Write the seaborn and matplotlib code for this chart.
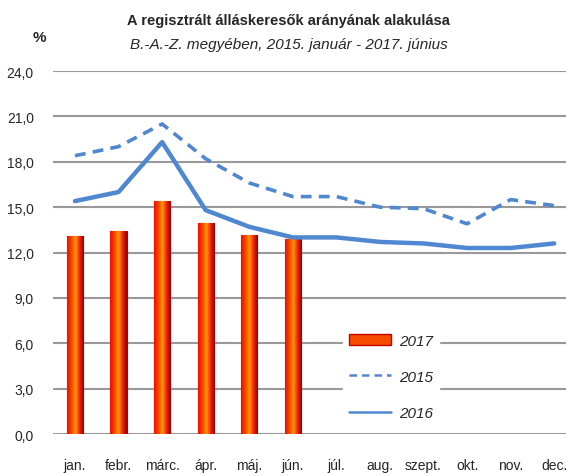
import numpy as np
import pandas as pd
import seaborn as sns
import matplotlib.pyplot as plt
from matplotlib.patches import Patch
from matplotlib.lines import Line2D
from matplotlib.colors import LinearSegmentedColormap

months = ['jan.', 'febr.', 'márc.', 'ápr.', 'máj.', 'jún.', 'júl.',
          'aug.', 'szept.', 'okt.', 'nov.', 'dec.']
v2015 = [18.4, 19.0, 20.5, 18.2, 16.6, 15.7, 15.7, 15.0, 14.9, 13.9, 15.5, 15.1]
v2016 = [15.4, 16.0, 19.3, 14.8, 13.7, 13.0, 13.0, 12.7, 12.6, 12.3, 12.3, 12.6]
v2017 = [13.1, 13.4, 15.4, 13.95, 13.15, 12.9]
yticks = [0, 3, 6, 9, 12, 15, 18, 21, 24]

sns.set_style('white')
plt.rcParams['font.family'] = ['Liberation Sans Narrow', 'Liberation Sans', 'DejaVu Sans']

fig = plt.figure(figsize=(5.66, 4.77), dpi=100)
ax = fig.add_axes([0.094, 0.088, 0.906, 0.761])

blue = '#4f87d0'

# 2017 bars
sns.barplot(x=months[:6], y=v2017, order=months, color='#f03000',
            width=0.37, ax=ax, zorder=3, edgecolor='#b00000', linewidth=0.8)

# gradient fill on bars
grad = np.linspace(0, 1, 64).reshape(1, -1)
cmap = LinearSegmentedColormap.from_list('bar', ['#e81000', '#ff4000', '#ff9a00', '#f02000', '#9a0000'])
for p in list(ax.patches):
    x0, y0 = p.get_x(), p.get_y()
    w, h = p.get_width(), p.get_height()
    im = ax.imshow(grad, extent=[x0, x0 + w, y0, y0 + h], cmap=cmap,
                   aspect='auto', zorder=3.5)
    im.set_clip_path(p)

xs = np.arange(12)
sns.lineplot(x=xs, y=v2015, ax=ax, color=blue, lw=2.6, linestyle=(0, (3, 2)), zorder=4)
sns.lineplot(x=xs, y=v2016, ax=ax, color=blue, lw=3.2, zorder=4)

ax.set_xlim(-0.5, 11.27)
ax.set_ylim(0, 24)
ax.set_yticks(yticks)
ax.set_yticklabels([f'{t:.1f}'.replace('.', ',') for t in yticks], fontsize=10)
ax.set_xticks(xs)
ax.set_xticklabels(months, fontsize=10)
ax.tick_params(axis='x', length=0, pad=17)
ax.tick_params(axis='y', length=0, pad=14)
ax.grid(axis='y', color='#999999', lw=1.5, zorder=0)
ax.set_axisbelow(True)
for s in ax.spines.values():
    s.set_visible(False)
ax.set_xlabel('')
ax.set_ylabel('')

handles = [Patch(facecolor='#f54a00', edgecolor='#c00000', label='2017'),
           Line2D([], [], color=blue, lw=1.8, linestyle=(0, (3, 2)), label='2015'),
           Line2D([], [], color=blue, lw=1.8, label='2016')]
leg = ax.legend(handles=handles, loc='lower left', bbox_to_anchor=(0.55, 0.0),
                frameon=True, framealpha=1, edgecolor='white', fancybox=False,
                prop={'style': 'italic', 'size': 11}, labelspacing=1.45,
                handlelength=2.75, handleheight=0.8, handletextpad=0.5)
leg.set_zorder(5)

fig.text(0.51, 0.955, 'A regisztrált álláskeresők arányának alakulása',
         ha='center', va='center', fontsize=10.5, fontweight='bold')
fig.text(0.51, 0.905, 'B.-A.-Z. megyében, 2015. január - 2017. június',
         ha='center', va='center', fontsize=11, style='italic')
fig.text(0.07, 0.92, '%', ha='center', va='center', fontsize=11, fontweight='bold')

plt.savefig('out.png', dpi=100)
plt.close()
